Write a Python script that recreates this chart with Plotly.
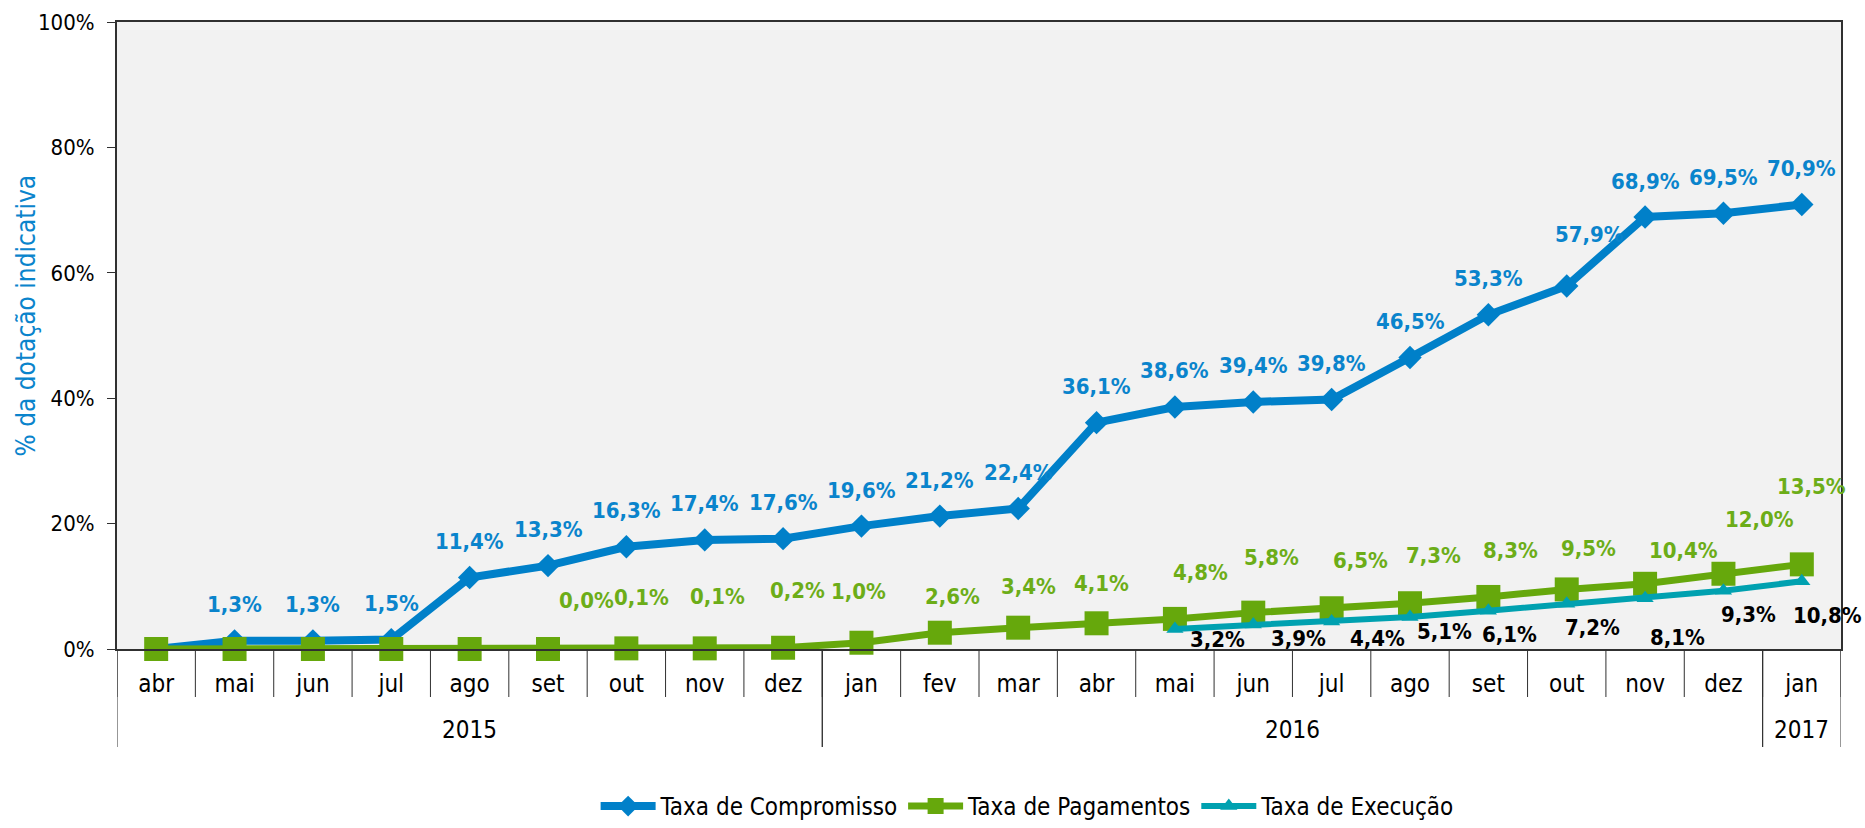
import plotly.graph_objects as go

# ---- data ----
years = ["2015"] * 9 + ["2016"] * 12 + ["2017"]
months = ["abr", "mai", "jun", "jul", "ago", "set", "out", "nov", "dez",
          "jan", "fev", "mar", "abr", "mai", "jun", "jul", "ago", "set", "out", "nov", "dez",
          "jan"]
year_labels = ["2015", "2016", "2017"]

compromisso = [0.0, 1.3, 1.3, 1.5, 11.4, 13.3, 16.3, 17.4, 17.6,
               19.6, 21.2, 22.4, 36.1, 38.6, 39.4, 39.8, 46.5, 53.3, 57.9, 68.9, 69.5,
               70.9]
compromisso_lbl = [None, "1,3%", "1,3%", "1,5%", "11,4%", "13,3%", "16,3%", "17,4%", "17,6%",
                   "19,6%", "21,2%", "22,4%", "36,1%", "38,6%", "39,4%", "39,8%", "46,5%", "53,3%",
                   "57,9%", "68,9%", "69,5%", "70,9%"]

pagamentos = [0.0, 0.0, 0.0, 0.0, 0.0, 0.0, 0.1, 0.1, 0.2,
              1.0, 2.6, 3.4, 4.1, 4.8, 5.8, 6.5, 7.3, 8.3, 9.5, 10.4, 12.0,
              13.5]
pagamentos_lbl = [None, None, None, None, None, "0,0%", "0,1%", "0,1%", "0,2%",
                  "1,0%", "2,6%", "3,4%", "4,1%", "4,8%", "5,8%", "6,5%", "7,3%", "8,3%",
                  "9,5%", "10,4%", "12,0%", "13,5%"]

execucao = [None] * 13 + [3.2, 3.9, 4.4, 5.1, 6.1, 7.2, 8.1, 9.3, 10.8]
execucao_lbl = [None] * 13 + ["3,2%", "3,9%", "4,4%", "5,1%", "6,1%", "7,2%", "8,1%", "9,3%", "10,8%"]

series_names = ["Taxa de Compromisso", "Taxa de Pagamentos", "Taxa de Execução"]
y_ticks = [0, 20, 40, 60, 80, 100]
y_title = "% da dotação indicativa"

# ---- label offsets (pixels, style only) ----
comp_dx = [0] * 22
comp_dy = [36] * 22
comp_dx[18] = 23
comp_dy[18] = 51
pag_dx = [0, 0, 0, 0, 0, 38, 15, 13, 14, -3, 13, 10, 5, 26, 18, 29, 23, 22, 22, 38, 36, 10]
pag_dy = [0, 0, 0, 0, 0, 49, 51, 52, 57, 51, 36, 41, 40, 46, 55, 48, 48, 46, 41, 33, 54, 78]
exe_dx = [0] * 13 + [43, 45, 46, 34, 21, 26, 32, 25, 26]
exe_dy = [0] * 13 + [-11, -14, -17, -14, -24, -24, -39, -24, -34]

BLUE = "#0080C9"
GREEN = "#66A80C"
TEAL = "#00A1B0"
BLUE_TXT = "#0A84CC"
GREEN_TXT = "#6CAD18"
LINE_C = "#303030"

# unique category keys, displayed as month names
keys = [f"{m} {y}" for m, y in zip(months, years)]
n = len(keys)

fig = go.Figure()
fig.add_trace(go.Scatter(x=keys, y=compromisso, name=series_names[0], mode="lines+markers",
                         line=dict(color=BLUE, width=8),
                         marker=dict(symbol="diamond", size=18, color=BLUE),
                         cliponaxis=False))
fig.add_trace(go.Scatter(x=keys, y=pagamentos, name=series_names[1], mode="lines+markers",
                         line=dict(color=GREEN, width=7),
                         marker=dict(symbol="square", size=24, color=GREEN),
                         cliponaxis=False))
fig.add_trace(go.Scatter(x=keys, y=execucao, name=series_names[2], mode="lines+markers",
                         line=dict(color=TEAL, width=6),
                         marker=dict(symbol="triangle-up", size=15, color=TEAL),
                         cliponaxis=False, connectgaps=False))

lab_font = "DejaVu Sans Condensed"
annotations = []
for i in range(n):
    if compromisso_lbl[i]:
        annotations.append(dict(x=i, y=compromisso[i], xref="x", yref="y", text=compromisso_lbl[i],
                                showarrow=False, xshift=comp_dx[i], yshift=comp_dy[i],
                                font=dict(family=lab_font, size=22, color=BLUE_TXT, weight="bold")))
    if pagamentos_lbl[i]:
        annotations.append(dict(x=i, y=pagamentos[i], xref="x", yref="y", text=pagamentos_lbl[i],
                                showarrow=False, xshift=pag_dx[i], yshift=pag_dy[i],
                                font=dict(family=lab_font, size=22, color=GREEN_TXT, weight="bold")))
    if execucao_lbl[i]:
        annotations.append(dict(x=i, y=execucao[i], xref="x", yref="y", text=execucao_lbl[i],
                                showarrow=False, xshift=exe_dx[i], yshift=exe_dy[i],
                                font=dict(family=lab_font, size=22, color="#000000", weight="bold")))

# y-axis title
annotations.append(dict(x=0, y=0.5, xref="paper", yref="paper", text=y_title, textangle=-90,
                        showarrow=False, xshift=-92, yshift=20,
                        xanchor="center", yanchor="middle",
                        font=dict(family="DejaVu Sans Condensed", size=26, color=BLUE_TXT)))

# year group labels and separators (axis decoration)
shapes = []
for i in range(n + 1):
    shapes.append(dict(type="line", xref="x", yref="paper", ysizemode="pixel", yanchor=0,
                       x0=i - 0.5, x1=i - 0.5, y0=0, y1=-48,
                       line=dict(color=LINE_C, width=1)))
start = 0
for yl in year_labels:
    cnt = years.count(yl)
    end = start + cnt
    annotations.append(dict(x=(start + end - 1) / 2, y=0, xref="x", yref="paper", text=yl,
                            showarrow=False, yshift=-81, yanchor="middle",
                            font=dict(family="DejaVu Sans Condensed", size=24, color="#000000")))
    for b in (start, end):
        shapes.append(dict(type="line", xref="x", yref="paper", ysizemode="pixel", yanchor=0,
                           x0=b - 0.5, x1=b - 0.5, y0=0, y1=-98,
                           line=dict(color=LINE_C, width=1)))
    start = end

fig.update_layout(
    width=1865, height=828,
    margin=dict(l=117, r=24, t=22, b=179),
    paper_bgcolor="white",
    plot_bgcolor="#F2F2F2",
    showlegend=True,
    legend=dict(orientation="h", xref="container", yref="container",
                x=0.551, xanchor="center", y=0.026, yanchor="middle",
                font=dict(family="DejaVu Sans Condensed", size=24, color="#000000"),
                itemwidth=55, tracegroupgap=0, bgcolor="rgba(0,0,0,0)"),
    annotations=annotations,
    shapes=shapes,
)
fig.update_xaxes(
    type="category", range=[-0.5, n - 0.5],
    tickvals=keys, ticktext=months,
    showline=True, linecolor=LINE_C, linewidth=2, mirror=True,
    showgrid=False, zeroline=False,
    ticks="", ticklabelstandoff=12,
    tickfont=dict(family="DejaVu Sans Condensed", size=24, color="#000000"),
    automargin=False,
)
fig.update_yaxes(
    range=[0, 100], tickvals=y_ticks, ticktext=[f"{v}%" for v in y_ticks],
    showline=True, linecolor=LINE_C, linewidth=2, mirror=True,
    showgrid=False, zeroline=False,
    ticks="outside", ticklen=8, tickcolor=LINE_C, ticklabelstandoff=8,
    tickfont=dict(family="DejaVu Sans Condensed", size=22, color="#000000"),
    automargin=False,
)

fig.write_html("out.html", config={"displayModeBar": False},
               post_script="document.body.style.margin='0';document.body.style.overflow='hidden';")
